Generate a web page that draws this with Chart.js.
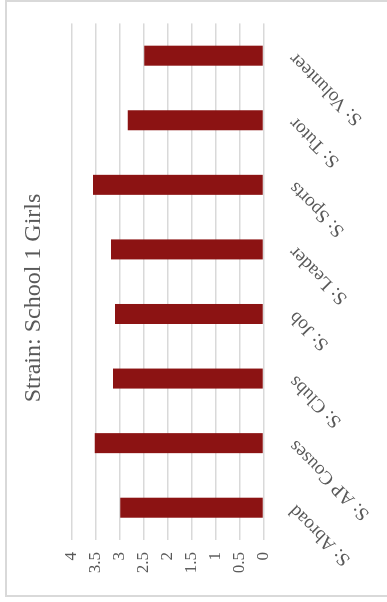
<!DOCTYPE html>
<html>
<head>
<meta charset="utf-8">
<script src="https://cdn.jsdelivr.net/npm/chart.js@4/dist/chart.umd.min.js"></script>
<style>
html, body { margin: 0; padding: 0; background: #fff; overflow: hidden; }
#frame {
    position: absolute; left: 5px; top: 0; width: 420px; height: 597px;
    border: 2px solid #d9d9d9; border-right: none; box-sizing: border-box;
}
/* chart is drawn upright, then turned a quarter turn to the left like the picture */
#wrap {
    position: absolute; left: 0; top: 0; width: 602px; height: 387px;
    transform-origin: 0 0; transform: translateY(602px) rotate(-90deg);
}
</style>
</head>
<body>
<div id="frame"></div>
<div id="wrap"><canvas id="chart" width="602" height="387"></canvas></div>
<script>
const categories = ['S: Abroad', 'S: AP Couses', 'S: Clubs', 'S: Job', 'S: Leader', 'S: Sports', 'S: Tutor', 'S: Volunteer'];
const strainValues = [2.99, 3.52, 3.14, 3.10, 3.18, 3.56, 2.83, 2.49];
const valueTicks = [0, 0.5, 1, 1.5, 2, 2.5, 3, 3.5, 4];
const titleText = 'Strain: School 1 Girls';

const textGrey = '#595959';
const gridGrey = '#d9d9d9';
const serif = "'Liberation Serif', 'Times New Roman', serif";

const ctx = document.getElementById('chart').getContext('2d');
new Chart(ctx, {
    type: 'bar',
    data: {
        labels: categories,
        datasets: [{
            label: titleText,
            data: strainValues,
            backgroundColor: '#8c1313',
            borderWidth: 0,
            barPercentage: 0.31,
            categoryPercentage: 1
        }]
    },
    options: {
        responsive: false,
        animation: false,
        devicePixelRatio: 1,
        // left/right kept near equal so the title sits in the middle
        layout: { padding: { left: 29.4, right: 23.4, top: 0, bottom: 0 } },
        plugins: {
            legend: { display: false },
            tooltip: { enabled: false },
            title: {
                display: true,
                text: titleText,
                color: textGrey,
                font: { family: serif, size: 24, weight: 'normal' },
                padding: { top: 19, bottom: 24 }
            }
        },
        scales: {
            x: {
                offset: true,
                grid: { display: false },
                border: { display: false },
                ticks: {
                    color: textGrey,
                    font: { family: serif, size: 19 },
                    minRotation: 45,
                    maxRotation: 45,
                    autoSkip: false,
                    padding: 13
                },
                afterFit: function(scale) { scale.height = 123.5; }
            },
            y: {
                min: valueTicks[0],
                max: valueTicks[valueTicks.length - 1],
                grid: { color: gridGrey, lineWidth: 1.5, drawTicks: false },
                border: { display: false },
                ticks: {
                    stepSize: valueTicks[1] - valueTicks[0],
                    color: textGrey,
                    font: { family: serif, size: 17 },
                    padding: 12,
                    callback: function(value) { return String(value); }
                },
                afterFit: function(scale) { scale.width = 32.6; }
            }
        }
    }
});
</script>
</body>
</html>
